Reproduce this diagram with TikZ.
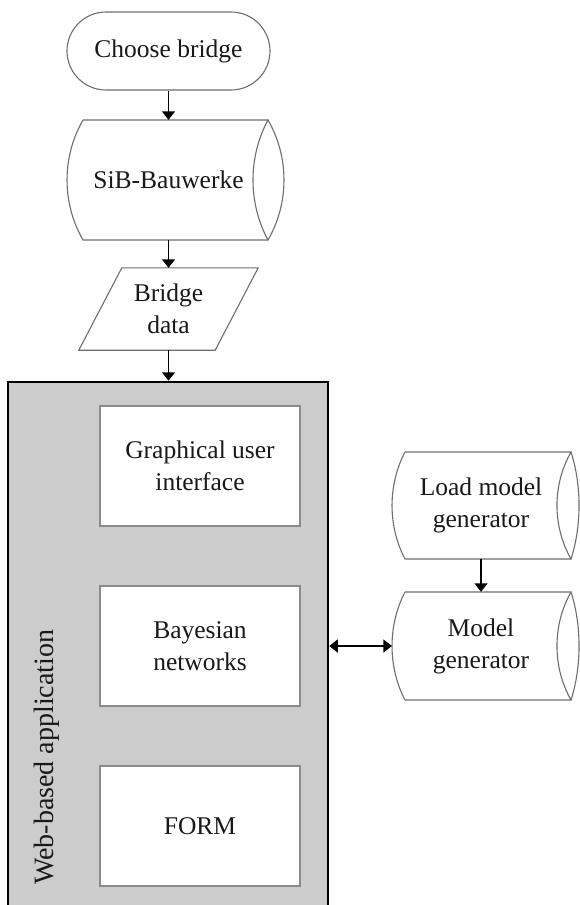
\documentclass[tikz,border=0pt]{standalone}
\usepackage{fontspec}
\setmainfont{Liberation Serif}
\usetikzlibrary{calc,arrows.meta}
\definecolor{boxgray}{RGB}{204,204,204}
\definecolor{linegray}{RGB}{110,110,110}
\definecolor{txt}{RGB}{25,25,25}
\tikzset{
  outline/.style={draw=linegray, line width=1.1pt},
  lbl/.style={font=\fontsize{25.5}{32}\selectfont, text=txt, align=center, inner sep=0pt},
  inbox/.style={lbl, draw=linegray!80, fill=white, line width=1.4pt, minimum width=200pt, minimum height=120pt},
  arr/.style={line width=1.5pt, -{Triangle[width=13pt,length=8.5pt]}},
  darr/.style={line width=1.5pt, {Triangle[width=13pt,length=8.5pt]}-{Triangle[width=13pt,length=8.5pt]}}
}
\newcommand\cylout[8]{%
  \draw[outline] ($(#1)+(#2,-#4)$) -- ($(#1)+(#3,-#4)$)
    .. controls ($(#1)+(#3-#6,-#4+#8)$) and ($(#1)+(#3-#6,#4-#8)$) .. ($(#1)+(#3,#4)$)
    .. controls ($(#1)+(#3+#7,#4-#8)$) and ($(#1)+(#3+#7,-#4+#8)$) .. ($(#1)+(#3,-#4)$);
  \draw[outline] ($(#1)+(#3,#4)$) -- ($(#1)+(#2,#4)$)
    .. controls ($(#1)+(#2-#5,#4-#8)$) and ($(#1)+(#2-#5,-#4+#8)$) .. ($(#1)+(#2,-#4)$);
}
\begin{document}
\begin{tikzpicture}[x=1pt,y=-1pt]
\useasboundingbox (0,0) rectangle (580,905);
\clip (0,0) rectangle (580,905);
\fill[white] (0,0) rectangle (580,905);

% top flow
\node[lbl, outline, rounded corners=39pt, minimum width=203pt, minimum height=78pt] (choose) at (168.5,51) {Choose bridge};
\node[lbl, minimum width=171pt, minimum height=120pt] (sib) at (168.5,180) {SiB-Bauwerke};
\cylout{sib}{-85.5}{99.5}{60}{21.3}{20}{21.3}{37}
\node[lbl, minimum width=136pt, minimum height=82pt] (bdata) at (168.5,309) {Bridge\\data};
\draw[outline] ([xshift=21.5pt]bdata.north west) -- ([xshift=21.5pt]bdata.north east)
  -- ([xshift=-21.5pt]bdata.south east) -- ([xshift=-21.5pt]bdata.south west) -- cycle;

% web application
\node[draw=black, fill=boxgray, line width=2.5pt, minimum width=320pt, minimum height=543pt, inner sep=0pt] (webapp) at (168,653.5) {};
\node[inbox] (gui) at (200,466) {Graphical user\\interface};
\node[inbox] (bayes) at (200,646) {Bayesian\\networks};
\node[inbox] (form) at (200,826) {FORM};
\node[lbl, font=\fontsize{28}{32}\selectfont, rotate=90, anchor=base west] (weblbl) at (53,885) {Web-based application};

% right side
\node[lbl, minimum width=178pt, minimum height=107pt] (load) at (481,505.5) {Load model\\generator};
\cylout{load}{-76}{90}{53.5}{17.3}{18.7}{10.7}{33}
\node[lbl, minimum width=178pt, minimum height=108pt] (model) at (481,646) {Model\\generator};
\cylout{model}{-76}{90}{54}{17.3}{18.7}{10.7}{33}

% connectors
\draw[arr] (choose.south) -- (sib.north);
\draw[arr] (sib.south) -- (bdata.north);
\draw[arr] (bdata.south) -- (bdata.south |- webapp.north);
\draw[arr] (load.south) -- (model.north);
\draw[darr] (model.west -| webapp.east) -- (model.west);
\end{tikzpicture}
\end{document}
